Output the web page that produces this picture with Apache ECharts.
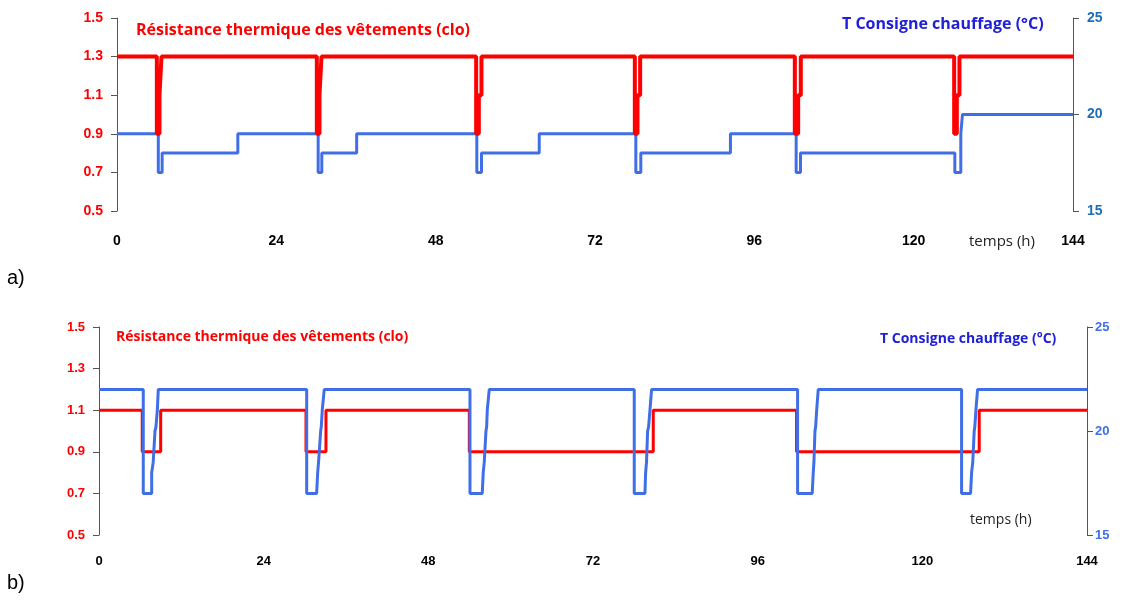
<!DOCTYPE html>
<html>
<head>
<meta charset="utf-8">
<script src="https://cdn.jsdelivr.net/npm/echarts@6/dist/echarts.min.js"></script>
<style>
html,body{margin:0;padding:0;background:#fff;}
#c{width:1122px;height:601px;}
</style>
</head>
<body>
<div id="c"></div>
<script>
// ---- data ----
const xTicks = [0, 24, 48, 72, 96, 120, 144];
// Chart a) clothing resistance (clo), step changes [hour, value]
const cloA = [[0,1.3],[6.0,0.9],[6.4,1.1],[6.7,1.3],[30.1,0.9],[30.5,1.1],[30.8,1.3],[54.1,0.9],[54.5,1.1],[54.9,1.3],
  [78.0,0.9],[78.4,1.1],[78.8,1.3],[102.1,0.9],[102.6,1.1],[103.0,1.3],[126.1,0.9],[126.5,1.1],[126.9,1.3],[144,1.3]];
// Chart a) heating set point (°C), step changes
const tA = [[0,19],[6.22,17],[6.8,18],[18.2,19],[30.3,17],[30.85,18],[36.1,19],[54.2,17],[54.9,18],[63.6,19],
  [78.15,17],[78.9,18],[92.4,19],[102.3,17],[102.95,18],[126.2,17],[127.1,19],[127.35,20],[144,20]];
// Chart b) clothing resistance, step changes
const cloB = [[0,1.1],[6.3,0.9],[8.99,1.1],[30.17,0.9],[33.08,1.1],[53.97,0.9],[80.78,1.1],[101.67,0.9],[128.29,1.1],[144,1.1]];
// Chart b) heating set point (°C) points
const tB = [[0,22],
  [6.45,22],[6.45,17],[7.68,17],[7.68,18],[7.9,18.5],[8.16,20],[8.3,20.2],[8.5,21],[8.64,22],
  [30.27,22],[30.27,17],[31.72,17],[31.87,18],[32.0,18.5],[32.31,20],[32.4,20.2],[32.54,21],[32.83,22],
  [54.07,22],[54.07,17],[55.86,17],[56.0,18],[56.15,18.5],[56.4,20],[56.5,20.2],[56.59,21],[56.88,22],
  [78.01,22],[78.01,17],[79.57,17],[79.67,18],[79.8,18.5],[79.96,20],[80.1,20.2],[80.3,21],[80.54,22],
  [101.82,22],[101.82,17],[103.95,17],[104.1,18],[104.2,18.5],[104.35,20],[104.45,20.2],[104.6,21],[104.83,22],
  [125.72,22],[125.72,17],[127.03,17],[127.18,18],[127.35,18.5],[127.56,20],[127.65,20.2],[127.81,21],[128.05,22],
  [144,22]];
const leftTitle = 'Résistance thermique des vêtements (clo)';
const rightTitle = 'T Consigne chauffage (°C)';
const xName = 'temps (h)';

const RED = '#ff0000', BLUE = '#3f6ee6', FONT = 'Liberation Sans', TFONT = 'Open Sans';
const chart = echarts.init(document.getElementById('c'));

function xAxis(gi, fs) {
  return {type:'value', gridIndex:gi, min:0, max:144, interval:24,
    axisLine:{show:false}, axisTick:{show:false}, splitLine:{show:false},
    axisLabel:{color:'#000', fontWeight:'bold', fontSize:fs, fontFamily:FONT, margin: gi===0?23:20}};
}
function yLeft(gi, fs) {
  return {type:'value', gridIndex:gi, min:0.5, max:1.5, interval:0.2, position:'left',
    axisLine:{show:true, lineStyle:{color:'#555', width:1}},
    axisTick:{show:true, length:6, lineStyle:{color:'#555'}},
    splitLine:{show:false},
    axisLabel:{color:RED, fontWeight:'bold', fontSize:fs, fontFamily:FONT, margin:14, formatter:v=>v.toFixed(1)}};
}
function yRight(gi, fs, col, m) {
  return {type:'value', gridIndex:gi, min:15, max:25, interval:5, position:'right',
    axisLine:{show:true, lineStyle:{color:'#555', width:1}},
    axisTick:{show:true, length:6, lineStyle:{color:'#555'}},
    splitLine:{show:false},
    axisLabel:{color:col, fontWeight:'bold', fontSize:fs, fontFamily:FONT, margin:m}};
}

chart.setOption({
  animation:false,
  grid:[{left:117, right:49, top:18, bottom:390}, {left:99, right:35, top:327, bottom:66}],
  xAxis:[xAxis(0,14), xAxis(1,13)],
  yAxis:[yLeft(0,14), yRight(0,14,'#1f6db8',14), yLeft(1,13), yRight(1,13,'#3f6ee6',8)],
  title:[
    {text:leftTitle, left:131, top:17, textStyle:{color:RED, fontWeight:'bold', fontSize:16, fontFamily:TFONT}},
    {text:rightTitle, left:837, top:11, textStyle:{color:'#2020d8', fontWeight:'bold', fontSize:16, fontFamily:TFONT}},
    {text:xName, left:964, top:229, textStyle:{color:'#222', fontWeight:'normal', fontSize:15, fontFamily:TFONT}},
    {text:'a)', left:2, top:263, textStyle:{color:'#000', fontWeight:'normal', fontSize:20, fontFamily:FONT}},
    {text:leftTitle, left:111, top:325, textStyle:{color:RED, fontWeight:'bold', fontSize:14, fontFamily:TFONT}},
    {text:rightTitle, left:875, top:327, textStyle:{color:'#2020d8', fontWeight:'bold', fontSize:14, fontFamily:TFONT}},
    {text:xName, left:965, top:508, textStyle:{color:'#222', fontWeight:'normal', fontSize:14, fontFamily:TFONT}},
    {text:'b)', left:2, top:568, textStyle:{color:'#000', fontWeight:'normal', fontSize:20, fontFamily:FONT}}
  ],
  series:[
    {type:'line', xAxisIndex:0, yAxisIndex:0, step:'end', data:cloA, symbol:'none', lineStyle:{color:RED, width:4}, z:3},
    {type:'line', xAxisIndex:0, yAxisIndex:1, step:'end', data:tA, symbol:'none', lineStyle:{color:BLUE, width:3}, z:2},
    {type:'line', xAxisIndex:1, yAxisIndex:2, step:'end', data:cloB, symbol:'none', lineStyle:{color:RED, width:3}, z:2},
    {type:'line', xAxisIndex:1, yAxisIndex:3, data:tB, symbol:'none', lineStyle:{color:BLUE, width:3}, z:3}
  ]
});
</script>
</body>
</html>
